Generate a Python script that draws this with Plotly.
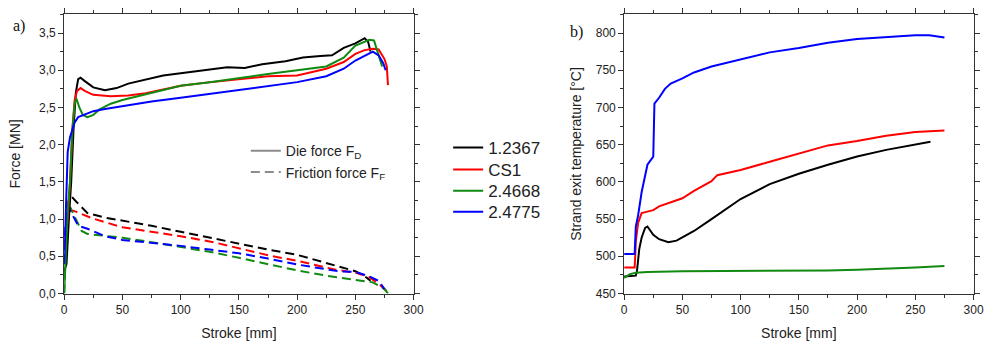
import plotly.graph_objects as go

# ---------------- data: left panel (force, MN) ----------------
stroke_black_FD = [0, 2, 4, 6, 8, 10, 12, 14, 18, 25, 35, 45, 55, 70, 85, 100, 120, 140, 155, 170, 190, 205, 220, 230, 240, 250, 258, 261, 263]
force_black_FD = [0.3, 0.4, 1.0, 1.5, 2.2, 2.7, 2.88, 2.9, 2.85, 2.77, 2.73, 2.76, 2.82, 2.88, 2.93, 2.96, 3.0, 3.04, 3.03, 3.08, 3.12, 3.17, 3.19, 3.2, 3.3, 3.36, 3.43, 3.38, 3.25]

stroke_red_FD = [0, 3, 5, 7, 9, 11, 14, 18, 25, 40, 55, 70, 85, 100, 120, 150, 175, 200, 215, 225, 240, 250, 258, 265, 270, 275, 277, 278]
force_red_FD = [0.6, 1.0, 1.5, 2.2, 2.6, 2.72, 2.76, 2.72, 2.67, 2.65, 2.66, 2.69, 2.74, 2.79, 2.83, 2.88, 2.92, 2.93, 2.98, 3.02, 3.11, 3.22, 3.27, 3.29, 3.28, 3.15, 3.05, 2.8]

stroke_green_FD = [0, 1, 3, 5, 7, 9, 10.5, 13, 16, 20, 25, 30, 40, 50, 75, 100, 125, 150, 175, 200, 225, 240, 250, 262, 266, 270, 273]
force_green_FD = [0.0, 0.4, 1.1, 1.5, 2.2, 2.55, 2.62, 2.5, 2.4, 2.37, 2.4, 2.47, 2.55, 2.6, 2.7, 2.79, 2.84, 2.9, 2.95, 3.0, 3.05, 3.17, 3.33, 3.41, 3.40, 3.2, 3.05]

stroke_blue_FD = [0, 1, 3, 5, 7, 9, 12, 18, 25, 35, 50, 75, 100, 125, 150, 175, 200, 225, 240, 250, 258, 265, 270, 274, 276]
force_blue_FD = [0.4, 1.0, 1.9, 2.1, 2.2, 2.3, 2.37, 2.41, 2.45, 2.48, 2.52, 2.58, 2.63, 2.68, 2.73, 2.78, 2.84, 2.92, 3.02, 3.13, 3.2, 3.25, 3.2, 3.09, 3.0]

stroke_black_FF = [0, 2, 4, 6, 10, 20, 35, 50, 75, 100, 125, 150, 175, 200, 225, 250, 260, 263]
force_black_FF = [0.4, 1.1, 1.25, 1.31, 1.24, 1.08, 1.02, 0.98, 0.91, 0.83, 0.75, 0.66, 0.59, 0.52, 0.41, 0.30, 0.21, 0.17]

stroke_red_FF = [0, 2, 4, 6, 10, 24, 50, 75, 100, 128, 150, 179, 200, 233, 250, 262, 270, 278]
force_red_FF = [0.6, 1.0, 1.25, 1.12, 1.10, 1.01, 0.89, 0.83, 0.77, 0.69, 0.61, 0.50, 0.44, 0.32, 0.28, 0.22, 0.13, 0.02]

stroke_green_FF = [0, 2, 5, 10, 15, 20, 35, 50, 75, 100, 125, 150, 175, 200, 225, 250, 265, 275, 278]
force_green_FF = [0.0, 0.8, 1.16, 1.0, 0.84, 0.80, 0.78, 0.75, 0.69, 0.63, 0.56, 0.48, 0.39, 0.31, 0.24, 0.19, 0.15, 0.06, 0.0]

stroke_blue_FF = [0, 1, 3, 7, 12, 20, 35, 50, 75, 100, 125, 150, 175, 200, 235, 250, 262, 270, 275]
force_blue_FF = [0.4, 0.9, 1.18, 1.05, 0.91, 0.87, 0.77, 0.72, 0.68, 0.64, 0.59, 0.54, 0.47, 0.39, 0.30, 0.29, 0.23, 0.17, 0.06]

# ---------------- data: right panel (temperature, degC) ----------------
stroke_black_T = [0, 5, 10, 11, 13, 15, 18, 20, 25, 30, 38, 45, 50, 60, 75, 100, 125, 150, 175, 200, 225, 250, 263]
temp_black_T = [473, 473, 474, 480, 510, 525, 538, 540, 529, 523, 519, 521, 525, 534, 550, 577, 597, 611, 623, 634, 643, 650, 654]

stroke_red_T = [0, 9, 9.5, 10, 12, 15, 20, 25, 30, 40, 50, 60, 75, 80, 100, 125, 150, 175, 200, 225, 250, 275]
temp_red_T = [485, 485, 500, 520, 545, 558, 560, 562, 567, 572, 578, 588, 601, 609, 616, 627, 638, 649, 655, 662, 667, 669]

stroke_green_T = [0, 5, 10, 20, 50, 100, 150, 175, 200, 225, 250, 275]
temp_green_T = [471, 476, 478, 479, 480, 480, 480, 481, 482, 483, 485, 487]

stroke_blue_T = [0, 9, 9.5, 10, 12, 15, 20, 25, 26, 30, 35, 40, 50, 60, 75, 100, 125, 150, 175, 200, 225, 250, 262, 275]
temp_blue_T = [503, 503, 520, 540, 555, 586, 623, 634, 705, 713, 725, 732, 739, 747, 755, 765, 774, 780, 787, 792, 795, 797, 797, 794]

materials = ["1.2367", "CS1", "2.4668", "2.4775"]
colors = ["#000000", "#ff0000", "#108a10", "#0000ff"]

FD = [(stroke_black_FD, force_black_FD), (stroke_red_FD, force_red_FD),
      (stroke_green_FD, force_green_FD), (stroke_blue_FD, force_blue_FD)]
FF = [(stroke_black_FF, force_black_FF), (stroke_red_FF, force_red_FF),
      (stroke_green_FF, force_green_FF), (stroke_blue_FF, force_blue_FF)]
TT = [(stroke_black_T, temp_black_T), (stroke_red_T, temp_red_T),
      (stroke_green_T, temp_green_T), (stroke_blue_T, temp_blue_T)]

fig = go.Figure()
W = 2
DASH = "9px,5px"

mat_legends = ["legend2", "legend3", "legend4", "legend5"]

for name, col, (xs, ys) in zip(materials, colors, FF):
    fig.add_trace(go.Scatter(x=xs, y=ys, mode="lines", showlegend=False,
                             line=dict(color=col, width=W, dash=DASH),
                             xaxis="x", yaxis="y"))
for name, col, lg, (xs, ys) in zip(materials, colors, mat_legends, FD):
    fig.add_trace(go.Scatter(x=xs, y=ys, mode="lines", name=name, legend=lg,
                             line=dict(color=col, width=W), xaxis="x", yaxis="y"))
for name, col, (xs, ys) in zip(materials, colors, TT):
    fig.add_trace(go.Scatter(x=xs, y=ys, mode="lines", showlegend=False,
                             line=dict(color=col, width=W), xaxis="x2", yaxis="y2"))

# legend keys for line style
fig.add_trace(go.Scatter(x=[None], y=[None], mode="lines", name="Die force F<sub>D</sub>",
                         legend="legend", line=dict(color="#8c8c8c", width=W)))
fig.add_trace(go.Scatter(x=[None], y=[None], mode="lines", name="Friction force F<sub>F</sub>",
                         legend="legend", line=dict(color="#8c8c8c", width=W, dash=DASH)))

FONT = "Liberation Sans, Arial, sans-serif"
axis_common = dict(
    showline=True, linecolor="#333333", linewidth=1, mirror="ticks",
    ticks="outside", ticklen=5, tickwidth=1, tickcolor="#333333",
    showgrid=False, zeroline=False,
    tickfont=dict(family=FONT, size=12, color="#222222"),
)
minor_common = dict(ticks="outside", ticklen=3, tickcolor="#333333")

W_PX, H_PX = 1003, 350
def px_x(p):
    return p / W_PX
def px_y(p):
    return 1 - p / H_PX

legend_rows = [151, 173.5, 195, 216.5]
extra_legends = {}
for lg, row in zip(mat_legends, legend_rows):
    extra_legends[lg] = dict(x=px_x(451), y=px_y(row), xanchor="left", yanchor="middle",
                             bgcolor="rgba(0,0,0,0)",
                             font=dict(family=FONT, size=17, color="#222222"))

fig.update_layout(
    width=W_PX, height=H_PX,
    margin=dict(l=0, r=0, t=0, b=0),
    paper_bgcolor="white", plot_bgcolor="white",
    separators=", ",
    font=dict(family=FONT, color="#222222"),
    xaxis=dict(domain=[px_x(62), px_x(416)], range=[0, 300], dtick=50, tick0=0,
               minor=dict(dtick=25, **minor_common),
               title=dict(text="Stroke [mm]", font=dict(size=14), standoff=12),
               anchor="y", **axis_common),
    yaxis=dict(domain=[px_y(299.5), px_y(14.7)], range=[0, 3.75], dtick=0.5, tick0=0,
               tickformat=".1f",
               minor=dict(dtick=0.25, **minor_common),
               title=dict(text="Force [MN]", font=dict(size=14), standoff=15),
               anchor="x", **axis_common),
    xaxis2=dict(domain=[px_x(629.3), px_x(983.3)], range=[0, 300], dtick=50, tick0=0,
                minor=dict(dtick=25, **minor_common),
                title=dict(text="Stroke [mm]", font=dict(size=14), standoff=12),
                anchor="y2", **axis_common),
    yaxis2=dict(domain=[px_y(299.5), px_y(14.7)], range=[450, 825], dtick=50, tick0=450,
                minor=dict(dtick=25, **minor_common),
                title=dict(text="Strand exit temperature [°C]", font=dict(size=14), standoff=10),
                anchor="x2", **axis_common),
    legend=dict(x=px_x(246), y=px_y(138), xanchor="left", yanchor="top",
                bgcolor="rgba(0,0,0,0)", font=dict(family=FONT, size=14, color="#222222"),
                tracegroupgap=0),
    annotations=[
        dict(text="a)", x=px_x(8), y=px_y(27), xref="paper", yref="paper",
             xanchor="left", yanchor="middle", showarrow=False,
             font=dict(family="Liberation Serif, Times New Roman, serif", size=16, color="#111111")),
        dict(text="b)", x=px_x(572), y=px_y(33), xref="paper", yref="paper",
             xanchor="left", yanchor="middle", showarrow=False,
             font=dict(family="Liberation Serif, Times New Roman, serif", size=16, color="#111111")),
    ],
    **extra_legends,
)

fig.write_html("out.html")
